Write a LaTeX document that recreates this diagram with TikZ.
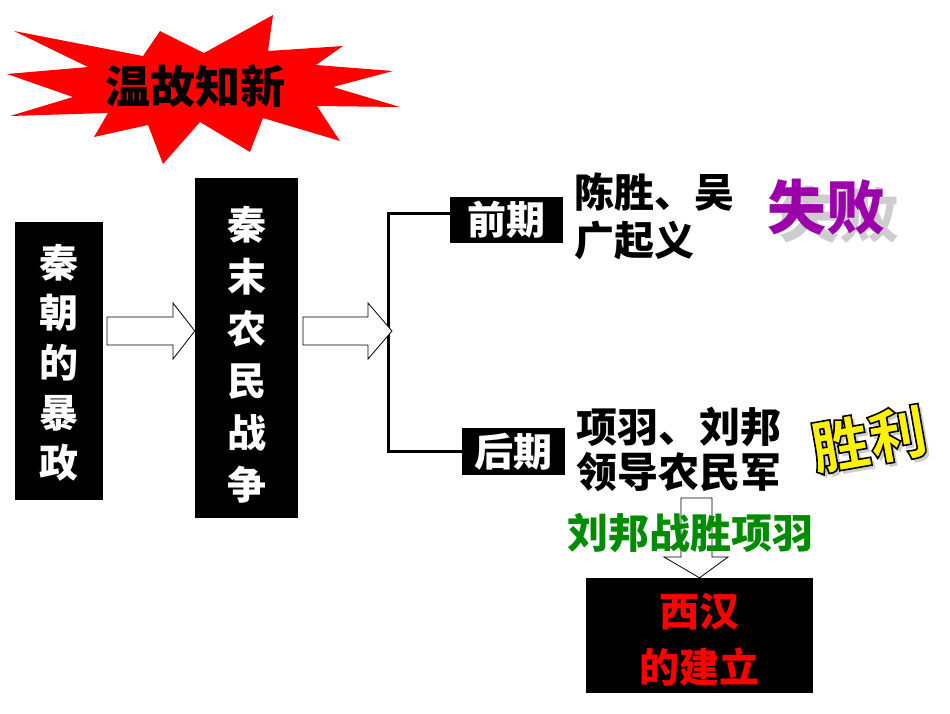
\documentclass[tikz,border=0pt]{standalone}
\usepackage{fontspec}
\newfontfamily\cjk{Noto Sans CJK SC}
\definecolor{burst}{RGB}{255,0,0}
\definecolor{shibai}{RGB}{155,0,170}
\definecolor{shadowgray}{RGB}{205,205,205}
\definecolor{lbgreen}{RGB}{0,140,0}
\definecolor{redtxt}{RGB}{255,0,0}
\newcommand{\outlinetext}[1]{\special{pdf:code q 2 Tr 1.6 w 0 G}#1\special{pdf:code Q}}
\tikzset{
  blackbox/.style={fill=black, draw=none, inner sep=0pt},
  vtext/.style={text=white, align=center, inner sep=0pt},
  blockarrow/.style={draw=black, fill=white, line width=0.8pt, line join=miter},
  bracket/.style={draw=black, line width=3pt},
  smallbox/.style={fill=black, text=white, inner sep=0pt, font=\cjk\bfseries\fontsize{39}{42}\selectfont},
  bodytext/.style={align=left, inner sep=0pt, text=black}
}
\begin{document}
\begin{tikzpicture}[x=1pt,y=-1pt]
\useasboundingbox (0,0) rectangle (950,713);
\fill[white] (0,0) rectangle (950,713);

% starburst
\fill[burst] (14,31) -- (143,56) -- (160,31) -- (204,53) -- (273,15) -- (268,51) -- (343,46) -- (316,65) -- (393,71) -- (333,87) -- (400,107) -- (317,106) -- (340,141) -- (263,118) -- (250,152) -- (200,122) -- (163,164) -- (148,125) -- (94,137) -- (108,113) -- (10,116) -- (73,97) -- (7,74) -- (88,67) -- cycle;
\node[inner sep=0pt, font=\cjk\bfseries\fontsize{45}{48}\selectfont] (title) at (195,86) {温故知新};

% box 1
\node[blackbox, minimum width=88pt, minimum height=278pt] (b1) at (59,361) {};
\node[vtext, font=\cjk\bfseries\fontsize{39}{50}\selectfont] (t1) at (59,363) {秦\\朝\\的\\暴\\政};

% box 2
\node[blackbox, minimum width=103pt, minimum height=340pt] (b2) at (246.5,348) {};
\node[vtext, font=\cjk\bfseries\fontsize{39}{52}\selectfont] (t2) at (246.5,355) {秦\\末\\农\\民\\战\\争};

% arrow 1
\draw[blockarrow] (107,317) -- (173,317) -- (173,303) -- (b2.west |- 0,331) -- (173,359) -- (173,345) -- (107,345) -- cycle;

% small boxes
\node[smallbox, minimum width=113pt, minimum height=46pt] (q) at (506.5,220) {前期};
\node[smallbox, minimum width=103pt, minimum height=47pt] (h) at (513.5,451.5) {后期};
\coordinate (top) at (388,213);
\coordinate (bot) at (388,451);
\draw[bracket] (q.west |- top) -- (top) -- (bot) -- (h.west |- bot);

% arrow 2
\draw[blockarrow] (303,317) -- (368,317) -- (368,303) -- (392,331) -- (368,359) -- (368,345) -- (303,345) -- cycle;

% texts
\node[bodytext, anchor=west, font=\cjk\bfseries\fontsize{40}{48}\selectfont] (qt) at (574,216) {陈胜、吴\\广起义};
\node[bodytext, anchor=west, font=\cjk\bfseries\fontsize{41}{45}\selectfont] (ht) at (576,449.5) {项羽、刘邦\\领导农民军};

% shibai
\node[inner sep=0pt, text=shadowgray, font=\cjk\bfseries\fontsize{60}{64}\selectfont] (sbs) at (839,215) {失败};
\node[inner sep=0pt, text=shibai, font=\cjk\bfseries\fontsize{59}{62}\selectfont] (sb) at (826,207) {失败};

% shengli
\node[inner sep=0pt, text=shadowgray, rotate=10, font=\cjk\bfseries\fontsize{58}{62}\selectfont] (sls) at (873,443) {胜利};
\node[inner sep=0pt, text=yellow, rotate=10, font=\cjk\bfseries\fontsize{58}{62}\selectfont] (sl) at (869,439) {\outlinetext{胜利}};

% bottom
\node[blackbox, minimum width=227pt, minimum height=115pt] (b3) at (699.5,635.5) {};
\draw[blockarrow, fill=none] (681,498) -- (712,498) -- (712,557) -- (728,557) -- (b3.north) -- (664,557) -- (681,557) -- cycle;
\node[inner sep=0pt, text=lbgreen, font=\cjk\bfseries\fontsize{41}{44}\selectfont] (win) at (690,533) {刘邦战胜项羽};
\node[inner sep=0pt, align=center, text=redtxt, font=\cjk\bfseries\fontsize{40}{56}\selectfont] (xh) at (699,640) {西汉\\的建立};
\end{tikzpicture}
\end{document}
